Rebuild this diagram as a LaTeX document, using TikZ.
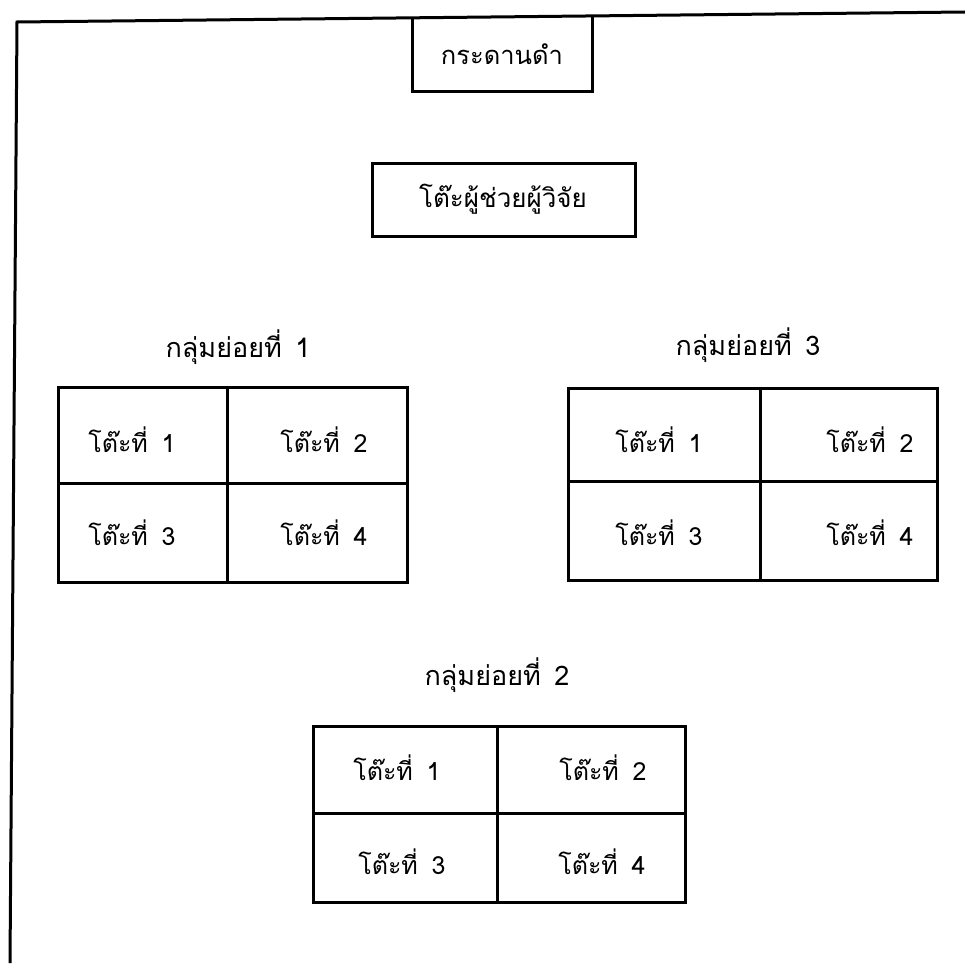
\documentclass[tikz,border=0pt]{standalone}
\usepackage{fontspec}
\newfontfamily\thaifont[Script=Thai]{Loma}
\newcommand{\dsk}[1]{โต๊ะที่\hspace{0.55em}#1}
\newcommand{\grp}[1]{กลุ่มย่อยที่\hspace{0.5em}#1}
\begin{document}
\begin{tikzpicture}[x=1pt,y=-1pt,
  line/.style={line width=3pt},
  lbl/.style={font=\thaifont\fontsize{25}{28}\selectfont, inner sep=0pt},
  ttl/.style={font=\thaifont\fontsize{27}{30}\selectfont, inner sep=0pt}]
\useasboundingbox (0,0) rectangle (965,963);
% frame
\coordinate (fl) at (10,963);
\coordinate (ftl) at (17,22);
\coordinate (ftr) at (965,12);
\draw[line] (fl) -- (ftl) -- (ftr);
% blackboard
\draw[line] (412,18) -- (412,92) -- (592,92) -- (592,16);
\node[lbl, font=\thaifont\fontsize{25.5}{28}\selectfont] (board) at (502,54) {กระดานดำ};
% assistant desk
\draw[line] (372,163) rectangle (635,236);
\node[lbl, font=\thaifont\fontsize{26}{29}\selectfont] (asst) at (503,199) {โต๊ะผู้ช่วยผู้วิจัย};
% group 1
\node[ttl] (g1) at (238,347) {\grp{1}};
\draw[line] (58,387) rectangle (407,582);
\draw[line] (58,483) -- (407,483);
\draw[line] (227,387) -- (227,582);
\node[lbl] (g1a) at (132,440) {\dsk{1}};
\node[lbl] (g1b) at (324,440) {\dsk{2}};
\node[lbl] (g1c) at (132,533) {\dsk{3}};
\node[lbl] (g1d) at (324,533) {\dsk{4}};
% group 3
\node[ttl] (g3) at (748,345) {\grp{3}};
\draw[line] (568,388) rectangle (937,580);
\draw[line] (568,481) -- (937,481);
\draw[line] (760,388) -- (760,580);
\node[lbl] (g3a) at (659,440) {\dsk{1}};
\node[lbl] (g3b) at (870,440) {\dsk{2}};
\node[lbl] (g3c) at (659,533) {\dsk{3}};
\node[lbl] (g3d) at (870,533) {\dsk{4}};
% group 2
\node[ttl] (g2) at (497,675) {\grp{2}};
\draw[line] (313,726) rectangle (685,902);
\draw[line] (313,813) -- (685,813);
\draw[line] (497,726) -- (497,902);
\node[lbl] (g2a) at (397,768) {\dsk{1}};
\node[lbl] (g2b) at (603,768) {\dsk{2}};
\node[lbl] (g2c) at (402,862) {\dsk{3}};
\node[lbl] (g2d) at (602,862) {\dsk{4}};
\end{tikzpicture}
\end{document}
